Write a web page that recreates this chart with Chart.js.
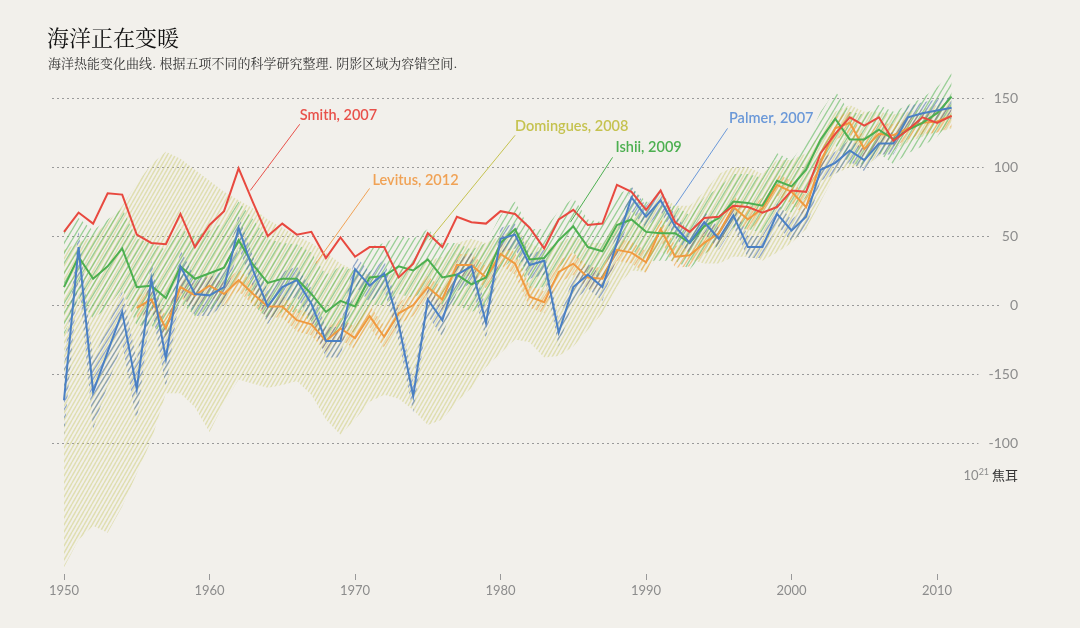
<!DOCTYPE html>
<html>
<head>
<meta charset="utf-8">
<script src="https://cdn.jsdelivr.net/npm/chart.js"></script>
<style>
  html, body { margin: 0; padding: 0; background: #f2f0eb; }
  #wrap { position: relative; width: 1080px; height: 628px; overflow: hidden; }
  #title { position: absolute; left: 47px; top: 21px; font: 22px "Noto Serif CJK SC", "Noto Sans CJK SC", serif; color: #111; }
  #sub { position: absolute; left: 48px; top: 53px; font: 13px "Noto Serif CJK SC", "Noto Sans CJK SC", serif; color: #333; }
  #unit { position: absolute; right: 62px; top: 465px; font: 13px "Noto Sans CJK SC", sans-serif; color: #333; }
  #unit span { font-family: Lato, sans-serif; color: #8c8c8c; }
  #unit sup { font-size: 9px; }
  canvas { position: absolute; left: 0; top: 0; }
</style>
</head>
<body>
<div id="wrap">
  <canvas id="c" width="1080" height="628"></canvas>
  <div id="title">海洋正在变暖</div>
  <div id="sub">海洋热能变化曲线. 根据五项不同的科学研究整理. 阴影区域为容错空间.</div>
  <div id="unit"><span>10<sup>21</sup></span> 焦耳</div>
</div>
<script>
// 年份 1950-2011
const years = [];
for (let y = 1950; y <= 2011; y++) years.push(y);

const xTicks = [1950, 1960, 1970, 1980, 1990, 2000, 2010];
const yTickValues = [150, 100, 50, 0, -50, -100];
const yTickLabels = ['150', '100', '50', '0', '-150', '-100'];

// Smith, 2007
const smith = [53,67,59,81,80,51,45,44,66,42, 58,68,99,74,50,59,51,53,34,49,
  35,42,42,20,30,52,42,64,60,59, 68,66,56,41,62,69,58,59,87,82,
  69,83,60,53,63,64,72,71,67,71, 83,82,110,124,136,130,136,119,127,136,132,137];

// Ishii, 2009
const ishii = [13,35,19,28,41,13,14,5,28,19, 23,27,47,29,16,19,19,8,-5,3,
  -1,20,21,28,25,33,20,22,15,20, 45,55,33,34,47,57,42,39,58,62,
  53,52,52,45,57,63,75,74,72,90, 86,98,120,135,120,120,127,120,127,132,139,151];
const ishiiHi = [55,63,54,62,70,48,45,40,55,50, 54,60,75,62,48,45,44,38,22,28,
  25,42,45,50,48,55,45,45,40,45, 65,75,55,55,68,78,62,60,80,85,
  75,72,72,65,78,85,95,95,92,110, 105,118,140,155,140,138,145,140,145,150,158,168];
const ishiiLo = [-22,5,-10,-2,12,-15,-15,-22,2,-8, -3,0,20,0,-10,-5,-5,-12,-25,-18,
  -20,0,0,8,5,12,0,0,-5,0, 25,35,12,13,27,38,22,20,38,40,
  32,32,32,26,37,43,56,55,52,70, 67,78,100,116,102,102,110,102,110,115,122,134];

// Palmer, 2007
const palmer = [-69,42,-63,-34,-5,-61,19,-39,28,8, 7,13,56,25,-1,13,18,1,-26,-26,
  26,14,23,-14,-66,4,-11,22,28,-13, 48,51,29,32,-20,13,22,13,45,78,
  64,76,57,45,60,48,65,42,42,66, 54,64,98,103,112,105,117,117,136,139,141,143];
const palmerHi = [-45,55,-40,-15,10,-40,32,-20,40,20, 20,25,65,35,10,24,28,12,-16,-16,
  36,24,33,-4,-56,14,-1,32,38,-3, 56,59,37,40,-12,21,30,21,53,86,
  72,84,65,53,68,56,73,50,50,74, 62,71,106,111,120,113,125,125,144,147,149,151];
const palmerLo = [-95,20,-90,-58,-28,-85,0,-60,10,-8, -8,0,42,12,-14,2,6,-12,-38,-38,
  14,2,11,-26,-78,-8,-23,10,16,-25, 38,41,19,22,-30,3,12,3,35,68,
  56,68,49,37,52,40,57,34,34,58, 46,55,90,95,104,97,109,109,128,131,133,135];

// Levitus, 2012 (从1955年开始)
const levitus = [null,null,null,null,null,-2,4,-17,13,7, 14,8,18,8,-1,-1,-11,-14,-26,-17,
  -24,-8,-23,-6,0,13,4,29,29,20, 37,30,6,2,24,30,20,19,40,38,
  31,55,35,36,45,52,71,62,70,87, 82,71,103,128,132,113,124,123,128,132,133,137];
const levitusHi = [null,null,null,null,null,6,12,-8,21,15, 22,16,26,16,7,7,-3,-6,-18,-9,
  -16,0,-15,2,8,21,12,37,37,28, 45,38,14,10,32,38,28,27,48,46,
  39,63,43,44,53,60,79,70,78,95, 90,79,111,136,140,121,132,131,136,140,141,145];
const levitusLo = [null,null,null,null,null,-10,-4,-25,5,-1, 6,0,10,0,-9,-9,-19,-22,-34,-25,
  -32,-16,-31,-14,-8,5,-4,21,21,12, 29,22,-2,-6,16,22,12,11,32,30,
  23,47,27,28,37,44,63,54,62,79, 74,63,95,120,124,105,116,115,120,124,125,129];

// Domingues, 2008 (阴影区域)
const domHi = [40,45,50,60,72,88,102,111,106,98, 90,82,76,70,62,56,50,45,38,30,
  25,22,20,25,30,32,35,45,48,45, 50,55,45,40,45,50,45,45,62,68,
  65,80,72,72,82,95,100,100,95,105, 105,110,125,140,145,140,140,138,140,142,145,148];
const domLo = [-190,-170,-160,-165,-146,-122,-98,-64,-64,-74, -92,-71,-54,-57,-60,-58,-55,-65,-83,-94,
  -83,-70,-65,-68,-76,-87,-83,-70,-60,-45, -35,-25,-27,-38,-37,-30,-18,-6,13,25,
  24,38,35,33,30,30,35,35,32,38, 45,55,75,95,100,100,108,112,118,122,125,128];

const pts = arr => arr.map((v, i) => ({ x: years[i], y: v }));

// 斜线纹理
function hatch(color, w, h, lw) {
  const c = document.createElement('canvas');
  c.width = w; c.height = h;
  const g = c.getContext('2d');
  g.strokeStyle = color;
  g.lineWidth = lw;
  g.beginPath();
  for (const dx of [-w, 0, w]) { g.moveTo(dx, h); g.lineTo(dx + w, 0); }
  g.stroke();
  return g.createPattern(c, 'repeat');
}

const RED = '#e8493f', GREEN = '#4caf50', BLUE = '#4a80c4', ORANGE = '#f09a40';

function line(label, data, color) {
  return { label, data: pts(data), borderColor: color, borderWidth: 2, pointRadius: 0, fill: false, spanGaps: false };
}
function bandLo(data) {
  return { data: pts(data), borderWidth: 0, pointRadius: 0, fill: false };
}
function bandHi(data, pattern) {
  return { data: pts(data), borderWidth: 0, pointRadius: 0, fill: '-1', backgroundColor: pattern };
}

// 标注 (数据坐标)
const notes = [
  { text: 'Smith, 2007', color: '#e8514a', tx: 1966.2, ty: 137.5, from: [1966.2, 131], to: [1962.8, 83] },
  { text: 'Levitus, 2012', color: '#f0a255', tx: 1971.2, ty: 90.5, from: [1971.0, 84.5], to: [1967.3, 30] },
  { text: 'Domingues, 2008', color: '#c5c24f', tx: 1981.0, ty: 129.5, from: [1981.0, 123], to: [1975.1, 47] },
  { text: 'Ishii, 2009', color: '#4caf50', tx: 1987.9, ty: 114.5, from: [1987.7, 107], to: [1984.8, 60] },
  { text: 'Palmer, 2007', color: '#6a98d8', tx: 1995.7, ty: 135.5, from: [1995.6, 128], to: [1992.0, 72] }
];

const gridPlugin = {
  id: 'dotgrid',
  beforeDatasetsDraw(chart) {
    const ctx = chart.ctx, ys = chart.scales.y, left = chart.chartArea.left;
    ctx.save();
    ctx.font = '14px Lato';
    ctx.strokeStyle = '#9a9a9a';
    ctx.lineWidth = 1;
    ctx.setLineDash([2, 3]);
    yTickValues.forEach((v, i) => {
      const y = Math.round(ys.getPixelForValue(v)) + 0.5;
      const w = ctx.measureText(yTickLabels[i]).width;
      ctx.beginPath();
      ctx.moveTo(left, y);
      ctx.lineTo(ys.left + 28 - w - 8, y);
      ctx.stroke();
    });
    ctx.restore();
  },
  afterDatasetsDraw(chart) {
    const ctx = chart.ctx, xs = chart.scales.x, ys = chart.scales.y;
    ctx.save();
    notes.forEach(n => {
      ctx.strokeStyle = n.color;
      ctx.lineWidth = 1;
      ctx.beginPath();
      ctx.moveTo(xs.getPixelForValue(n.from[0]), ys.getPixelForValue(n.from[1]));
      ctx.lineTo(xs.getPixelForValue(n.to[0]), ys.getPixelForValue(n.to[1]));
      ctx.stroke();
      ctx.fillStyle = n.color;
      ctx.font = '600 14.5px Lato';
      ctx.textBaseline = 'middle';
      ctx.fillText(n.text, xs.getPixelForValue(n.tx), ys.getPixelForValue(n.ty));
    });
    ctx.restore();
  }
};

new Chart(document.getElementById('c'), {
  type: 'line',
  data: {
    datasets: [
      line('Smith, 2007', smith, RED),
      line('Palmer, 2007', palmer, BLUE),
      line('Ishii, 2009', ishii, GREEN),
      line('Levitus, 2012', levitus, ORANGE),
      bandLo(palmerLo), bandHi(palmerHi, hatch('rgba(70,110,170,0.55)', 5, 8, 1.4)),
      bandLo(levitusLo), bandHi(levitusHi, hatch('rgba(240,155,50,0.55)', 5, 8, 1.4)),
      bandLo(ishiiLo), bandHi(ishiiHi, hatch('rgba(95,185,95,0.6)', 6, 10, 1.4)),
      bandLo(domLo), bandHi(domHi, hatch('rgba(205,205,120,0.5)', 4, 7, 1.5))
    ]
  },
  options: {
    responsive: false,
    animation: false,
    devicePixelRatio: 1,
    layout: { padding: { left: 52, right: 62, top: 70, bottom: 0 } },
    plugins: { legend: { display: false }, tooltip: { enabled: false } },
    elements: { line: { tension: 0 } },
    scales: {
      x: {
        type: 'linear',
        min: 1949.175,
        max: 2013.5,
        afterBuildTicks: s => { s.ticks = xTicks.map(v => ({ value: v })); },
        afterFit: s => { s.height = 54; },
        grid: { drawOnChartArea: false, drawTicks: true, tickLength: 6, color: '#999' },
        border: { display: false },
        ticks: { color: '#8c8c8c', font: { family: 'Lato', size: 13 }, padding: 3, callback: v => String(v) }
      },
      y: {
        position: 'right',
        min: -194.9,
        max: 170.3,
        afterBuildTicks: s => { s.ticks = yTickValues.map(v => ({ value: v })); },
        afterFit: s => { s.width = 30; },
        grid: { display: false },
        border: { display: false },
        ticks: {
          color: '#8c8c8c', font: { family: 'Lato', size: 14 }, padding: 0, crossAlign: 'far',
          callback: v => yTickLabels[yTickValues.indexOf(v)]
        }
      }
    }
  },
  plugins: [gridPlugin]
});
</script>
</body>
</html>
